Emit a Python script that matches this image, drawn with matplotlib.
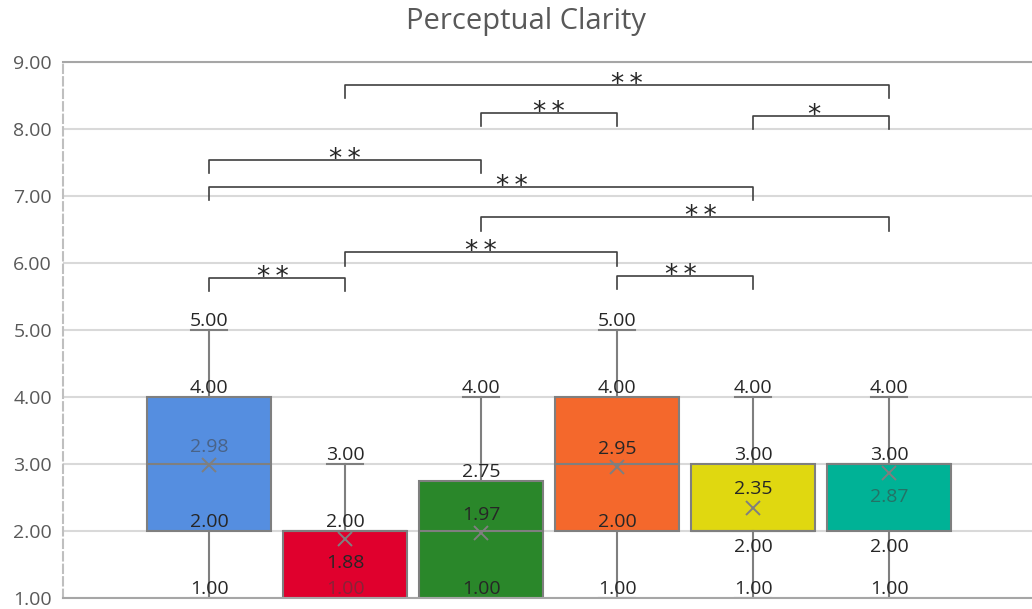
import matplotlib
matplotlib.use("Agg")
import matplotlib.pyplot as plt

# ---- data ----
title = "Perceptual Clarity"
groups = [1, 2, 3, 4, 5, 6]
box_min = [1.00, 1.00, 1.00, 1.00, 1.00, 1.00]
box_q1 = [2.00, 1.00, 1.00, 2.00, 2.00, 2.00]
box_median = [3.00, 2.00, 2.00, 3.00, 2.00, 3.00]
box_q3 = [4.00, 2.00, 2.75, 4.00, 3.00, 3.00]
box_max = [5.00, 3.00, 4.00, 5.00, 4.00, 4.00]
box_mean = [2.98, 1.88, 1.97, 2.95, 2.35, 2.87]
box_colors = ["#558EE0", "#E0002D", "#2A872A", "#F4682C", "#E0D810", "#00B296"]
y_ticks = [1, 2, 3, 4, 5, 6, 7, 8, 9]

# pairwise significance: from group, to group, bracket height, mark
sig_from = [2, 3, 5, 1, 1, 3, 2, 1, 4]
sig_to = [6, 4, 6, 3, 5, 6, 4, 2, 5]
sig_height = [8.66, 8.24, 8.20, 7.54, 7.14, 6.68, 6.16, 5.78, 5.81]
sig_mark = ["**", "**", "*", "**", "**", "**", "**", "**", "**"]

# ---- styling ----
FONT = "Open Sans"
FS = 14
GRAY = "#7f7f7f"
TEXT = "#262626"
star_shift = [0.07, 0.0, -0.05, 0.0, 0.23, 0.12, 0.0, -0.03, -0.03]

# which statistics get a value label, and where (a = above, b = below, m = muted)
label_spec = [
    [("max", "a"), ("q3", "a"), ("q1", "a"), ("min", "a"), ("mean", "am")],
    [("max", "a"), ("q3", "a"), ("mean", "b"), ("min", "am")],
    [("max", "a"), ("q3", "a"), ("mean", "a"), ("min", "a")],
    [("max", "a"), ("q3", "a"), ("mean", "a"), ("q1", "a"), ("min", "a")],
    [("max", "a"), ("q3", "a"), ("mean", "a"), ("q1", "b"), ("min", "a")],
    [("max", "a"), ("q3", "a"), ("mean", "bm"), ("q1", "b"), ("min", "a")],
]

W, H = 1032, 609
fig = plt.figure(figsize=(W / 100, H / 100), dpi=100)
ax = fig.add_axes([63 / W, (H - 598) / H, (W - 63) / W, (598 - 62) / H])

stats = []
for i in range(len(groups)):
    stats.append(dict(med=box_median[i], q1=box_q1[i], q3=box_q3[i],
                      whislo=box_min[i], whishi=box_max[i],
                      mean=box_mean[i], fliers=[]))

bp = ax.bxp(stats, positions=groups, widths=0.91, patch_artist=True,
            showmeans=True, showfliers=False, capwidths=0.27,
            boxprops=dict(edgecolor=GRAY, linewidth=1.5),
            medianprops=dict(color=GRAY, linewidth=1.5),
            whiskerprops=dict(color=GRAY, linewidth=1.5),
            capprops=dict(color=GRAY, linewidth=1.5),
            meanprops=dict(marker="x", markeredgecolor=GRAY,
                           markersize=10, markeredgewidth=1.4))
for patch, col in zip(bp["boxes"], box_colors):
    patch.set_facecolor(col)

ax.set_xlim(1 + (63 - 209) / 136, 1 + (W - 209) / 136)
ax.set_ylim(1, 9)
ax.set_yticks(y_ticks)
ax.set_yticklabels([f"{v:.2f}" for v in y_ticks], fontfamily=FONT,
                   fontsize=FS, color="#595959")
ax.tick_params(axis="y", length=0, pad=8)
ax.set_xticks([])
ax.yaxis.grid(True, color="#d9d9d9", linewidth=1.5)
ax.set_axisbelow(True)
ax.spines["right"].set_visible(False)
ax.spines["top"].set_color("#a6a6a6")
ax.spines["top"].set_linewidth(1.5)
ax.spines["bottom"].set_color("#a6a6a6")
ax.spines["bottom"].set_linewidth(1.5)
ax.spines["left"].set_color("#bfbfbf")
ax.spines["left"].set_linestyle((0, (4, 2)))
ax.spines["left"].set_linewidth(1.5)

# value labels
for i, g in enumerate(groups):
    vals = dict(max=box_max[i], q3=box_q3[i], q1=box_q1[i],
                min=box_min[i], mean=box_mean[i])
    for key, where in label_spec[i]:
        v = vals[key]
        if key == "mean":
            dy = 9.5 if "a" in where else -21
        else:
            dy = 3 if "a" in where else -15
        color = "#404040" if "m" in where else TEXT
        alpha = 0.55 if "m" in where else 1.0
        ax.annotate(f"{v:.2f}", (g, v), xytext=(0, dy),
                    textcoords="offset points", ha="center", va="baseline",
                    fontfamily=FONT, fontsize=FS, color=color, alpha=alpha,
                    zorder=5)

# significance brackets
tick = 0.2
for a, b, h, m, s in zip(sig_from, sig_to, sig_height, sig_mark, star_shift):
    ax.plot([a, a, b, b], [h - tick, h, h, h - tick], color="#404040",
            linewidth=1.2, clip_on=False, zorder=6)
    ax.annotate("\u2009".join(m), ((a + b) / 2 + s, h),
                xytext=(0, -5), textcoords="offset points",
                ha="center", va="baseline", fontfamily="DejaVu Sans",
                fontsize=19, color="#262626", zorder=6)

fig.text(526.5 / W, 1 - 22 / H, title, ha="center", va="center",
         fontfamily=FONT, fontsize=21, color="#595959")

fig.savefig("out.png", dpi=100)
